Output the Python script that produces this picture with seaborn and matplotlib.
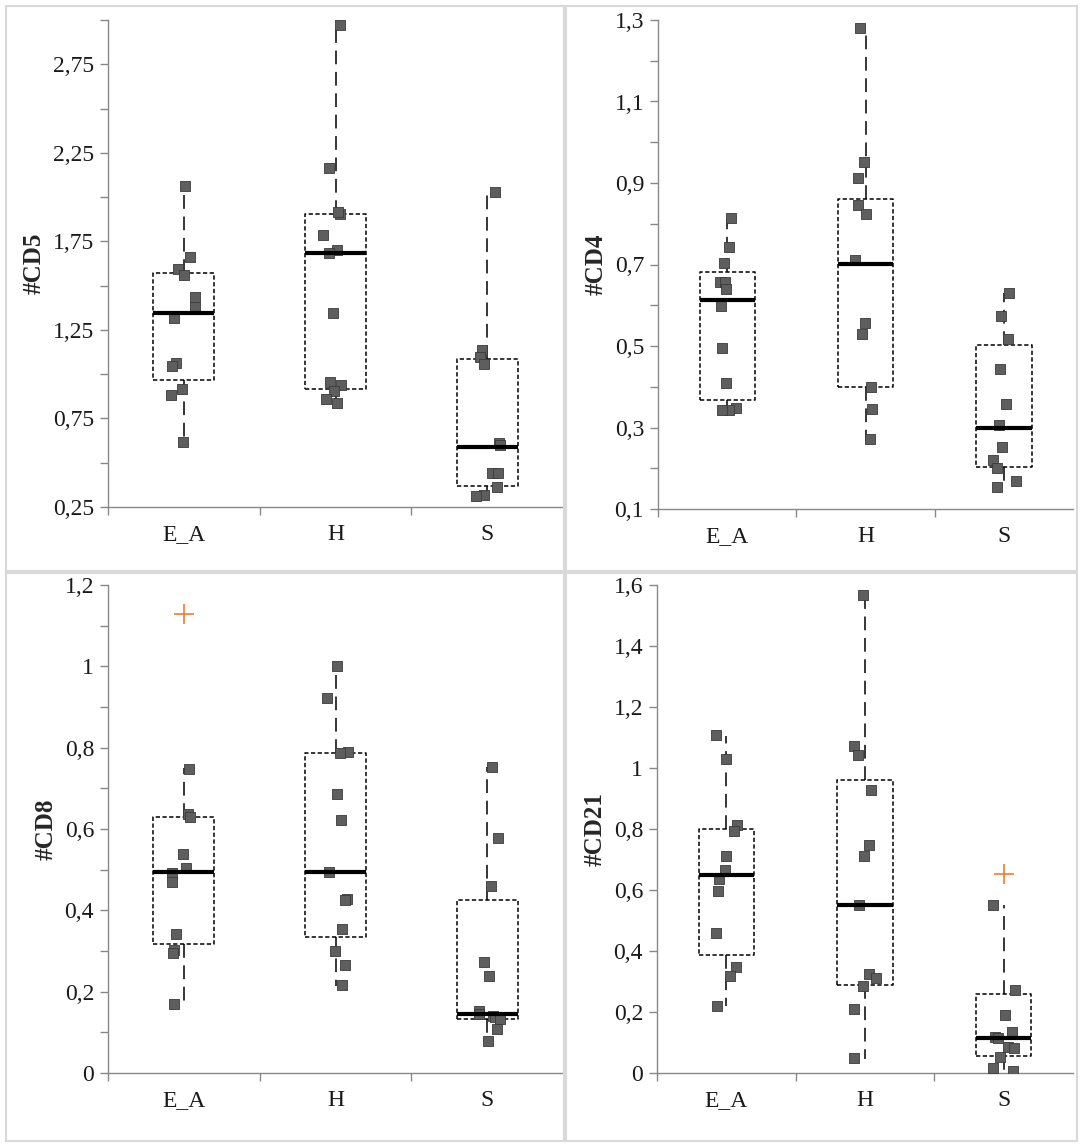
import numpy as np
import pandas as pd
import matplotlib
matplotlib.use("Agg")
import matplotlib.pyplot as plt
from matplotlib.ticker import FuncFormatter
from matplotlib.patches import Rectangle
import seaborn as sns

groups = ["E_A", "H", "S"]

# #CD5 values
cd5_ea = [2.062, 1.663, 1.595, 1.562, 1.434, 1.377, 1.317, 1.065, 1.045, 0.914, 0.884, 0.616]
cd5_h = [2.971, 2.162, 1.905, 1.913, 1.784, 1.699, 1.683, 1.343, 0.955, 0.938, 0.904, 0.858, 0.838]
cd5_s = [2.031, 1.136, 1.095, 1.055, 0.612, 0.602, 0.441, 0.441, 0.361, 0.320, 0.310]
cd5_q1 = [0.965, 0.914, 0.371]
cd5_med = [1.343, 1.683, 0.588]
cd5_q3 = [1.574, 1.905, 1.085]
cd5_lo = [0.616, 0.838, 0.310]
cd5_hi = [2.062, 2.971, 2.031]
cd5_out = [[], [], []]

# #CD4 values
cd4_ea = [0.814, 0.744, 0.704, 0.658, 0.656, 0.641, 0.597, 0.496, 0.408, 0.348, 0.344, 0.344]
cd4_h = [1.280, 0.952, 0.913, 0.845, 0.825, 0.711, 0.557, 0.529, 0.399, 0.346, 0.273]
cd4_s = [0.630, 0.573, 0.518, 0.443, 0.357, 0.305, 0.252, 0.221, 0.201, 0.169, 0.153]
cd4_q1 = [0.368, 0.399, 0.204]
cd4_med = [0.612, 0.702, 0.300]
cd4_q3 = [0.682, 0.860, 0.503]
cd4_lo = [0.344, 0.267, 0.153]
cd4_hi = [0.814, 1.280, 0.630]
cd4_out = [[], [], []]

# #CD8 values
cd8_ea = [0.748, 0.637, 0.630, 0.538, 0.504, 0.492, 0.469, 0.342, 0.303, 0.295, 0.169]
cd8_h = [1.000, 0.923, 0.790, 0.787, 0.686, 0.621, 0.495, 0.429, 0.426, 0.355, 0.300, 0.266, 0.217]
cd8_s = [0.752, 0.579, 0.460, 0.273, 0.238, 0.153, 0.144, 0.141, 0.137, 0.132, 0.109, 0.078]
cd8_q1 = [0.317, 0.335, 0.132]
cd8_med = [0.495, 0.495, 0.146]
cd8_q3 = [0.630, 0.786, 0.425]
cd8_lo = [0.164, 0.215, 0.078]
cd8_hi = [0.750, 1.000, 0.752]
cd8_out = [[1.129], [], []]

# #CD21 values
cd21_ea = [1.108, 1.031, 0.812, 0.795, 0.711, 0.667, 0.637, 0.597, 0.458, 0.348, 0.318, 0.219]
cd21_h = [1.566, 1.073, 1.044, 0.927, 0.748, 0.711, 0.551, 0.326, 0.311, 0.284, 0.209, 0.050]
cd21_s = [0.551, 0.272, 0.191, 0.133, 0.118, 0.114, 0.086, 0.081, 0.052, 0.016, 0.007]
cd21_q1 = [0.388, 0.289, 0.057]
cd21_med = [0.650, 0.551, 0.114]
cd21_q3 = [0.800, 0.961, 0.258]
cd21_lo = [0.219, 0.047, 0.007]
cd21_hi = [1.105, 1.566, 0.551]
cd21_out = [[], [], [0.652]]

sns.set_style("ticks")
plt.rcParams["font.family"] = ["Liberation Serif", "DejaVu Serif"]

fig = plt.figure(figsize=(10.84, 11.48), dpi=100)
W, H = 1084, 1148

# chart area frames
for x0, y0, x1, y1 in [(6, 6, 564, 571), (566, 6, 1077, 571),
                       (6, 573, 564, 1141), (566, 573, 1077, 1141)]:
    fig.patches.append(Rectangle((x0 / W, 1 - y1 / H), (x1 - x0) / W, (y1 - y0) / H,
                                 transform=fig.transFigure, fill=False,
                                 edgecolor="#d9d9d9", lw=1.5))


def px_axes(x0, y0, x1, y1):
    return fig.add_axes([x0 / W, 1 - y1 / H, (x1 - x0) / W, (y1 - y0) / H])


panels = [
    (px_axes(108, 20, 563, 507), "#CD5", [cd5_ea, cd5_h, cd5_s],
     cd5_q1, cd5_med, cd5_q3, cd5_lo, cd5_hi, cd5_out,
     (0.25, 3.0), np.arange(0.25, 2.76, 0.5), np.arange(0.5, 3.01, 0.5)),
    (px_axes(658, 20, 1073, 509), "#CD4", [cd4_ea, cd4_h, cd4_s],
     cd4_q1, cd4_med, cd4_q3, cd4_lo, cd4_hi, cd4_out,
     (0.1, 1.3), np.arange(0.1, 1.31, 0.2), np.arange(0.2, 1.21, 0.2)),
    (px_axes(108, 585, 563, 1073), "#CD8", [cd8_ea, cd8_h, cd8_s],
     cd8_q1, cd8_med, cd8_q3, cd8_lo, cd8_hi, cd8_out,
     (0.0, 1.2), np.arange(0.0, 1.21, 0.2), np.arange(0.1, 1.11, 0.2)),
    (px_axes(657, 585, 1073, 1073), "#CD21", [cd21_ea, cd21_h, cd21_s],
     cd21_q1, cd21_med, cd21_q3, cd21_lo, cd21_hi, cd21_out,
     (0.0, 1.6), np.arange(0.0, 1.61, 0.2), []),
]

fmt = FuncFormatter(lambda v, p: f"{v:g}".replace(".", ","))
np.random.seed(3)

for ax, label, vals, q1, med, q3, lo, hi, out, ylim, major, minor in panels:
    df = pd.DataFrame({
        "group": np.repeat(groups, [len(v) for v in vals]),
        "value": np.concatenate(vals),
    })
    stats = [dict(q1=q1[i], med=med[i], q3=q3[i], whislo=lo[i], whishi=hi[i],
                  fliers=out[i]) for i in range(3)]
    ax.bxp(stats, positions=[0, 1, 2], widths=0.4, showcaps=False, showfliers=True,
           manage_ticks=False,
           boxprops=dict(color="black", lw=1.1, ls=(0, (2.8, 1.6)), zorder=2),
           whiskerprops=dict(color="black", lw=1.1, ls=(0, (9, 5)), zorder=2),
           medianprops=dict(color="black", lw=3, solid_capstyle="butt", zorder=4),
           flierprops=dict(marker="+", markeredgecolor="#ED7D31", markersize=15,
                           markeredgewidth=1.2, ls="none"))
    sns.stripplot(data=df, x="group", y="value", order=groups, jitter=0.09,
                  marker="s", size=6.5, color="#5e5e5e", edgecolor="#3a3a3a",
                  linewidth=0.6, ax=ax, zorder=3)

    ax.set_xlim(-0.5, 2.5)
    ax.set_ylim(*ylim)
    ax.set_yticks(major)
    ax.set_yticks(minor, minor=True)
    ax.yaxis.set_major_formatter(fmt)
    ax.set_xticks([0, 1, 2], groups)
    ax.set_xticks([-0.5, 0.5, 1.5], minor=True)
    ax.tick_params(axis="x", which="major", length=0, pad=12, labelsize=17,
                   labelcolor="#1a1a1a")
    ax.tick_params(axis="x", which="minor", length=6, width=1, color="#888888",
                   direction="out")
    ax.tick_params(axis="y", which="both", length=6, width=1, color="#888888",
                   direction="out", labelsize=17, labelcolor="#1a1a1a", pad=4)
    for s in ["top", "right"]:
        ax.spines[s].set_visible(False)
    for s in ["left", "bottom"]:
        ax.spines[s].set_color("#898989")
        ax.spines[s].set_linewidth(1.0)
    ax.set_xlabel("")
    ax.set_ylabel(label, fontsize=18, fontweight="bold", labelpad=5)
    ax.patch.set_alpha(0)

fig.savefig("out.png", dpi=100)
